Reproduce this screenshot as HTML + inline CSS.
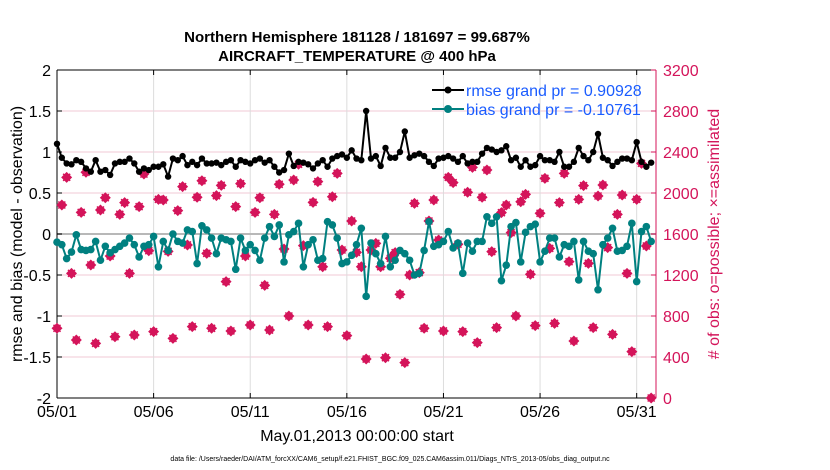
<!DOCTYPE html>
<html><head><meta charset="utf-8"><style>
body{margin:0;background:#fff;}
svg{display:block;font-family:"Liberation Sans",Arial,sans-serif;}
</style></head><body>
<svg id="chart" width="830" height="470" viewBox="0 0 830 470" xmlns="http://www.w3.org/2000/svg">
<rect width="830" height="470" fill="#fff"/>
<text x="357" y="42" text-anchor="middle" font-size="15" font-weight="bold">Northern Hemisphere 181128 / 181697 = 99.687%</text>
<text x="357" y="61" text-anchor="middle" font-size="15" font-weight="bold">AIRCRAFT_TEMPERATURE @ 400 hPa</text>
<g id="grid"></g>
<g id="ticks"></g>
<g id="marks"></g>
<text transform="translate(22,234) rotate(-90)" text-anchor="middle" font-size="16">rmse and bias (model - observation)</text>
<text transform="translate(719,234) rotate(-90)" text-anchor="middle" font-size="16" fill="#d4145a"># of obs: o=possible; ×=assimilated</text>
<text x="357" y="441" text-anchor="middle" font-size="16">May.01,2013 00:00:00 start</text>
<text x="390" y="461" text-anchor="middle" font-size="7">data file: /Users/raeder/DAI/ATM_forcXX/CAM6_setup/f.e21.FHIST_BGC.f09_025.CAM6assim.011/Diags_NTrS_2013-05/obs_diag_output.nc</text>
<g>
<line x1="432" y1="90" x2="464" y2="90" stroke="#000" stroke-width="2"/>
<circle cx="448" cy="90" r="3.5" fill="#000"/>
<text x="466" y="96" font-size="16" fill="#1a5cff">rmse grand pr = 0.90928</text>
<line x1="432" y1="109" x2="464" y2="109" stroke="#008080" stroke-width="2"/>
<circle cx="448" cy="109" r="4" fill="#008080"/>
<text x="466" y="115" font-size="16" fill="#1a5cff">bias grand pr = -0.10761</text>
</g>
</svg>
<script>
const rmse=[1.1,0.93,0.86,0.85,0.9,0.88,0.8,0.76,0.9,0.76,0.78,0.72,0.86,0.88,0.88,0.92,0.86,0.76,0.8,0.78,0.82,0.82,0.85,0.7,0.92,0.9,0.95,0.84,0.88,0.84,0.92,0.86,0.86,0.87,0.84,0.88,0.9,0.82,0.9,0.88,0.86,
0.9,0.92,0.87,0.9,0.82,0.75,0.78,0.98,0.83,0.88,0.87,0.85,0.8,0.86,0.9,0.82,0.92,0.95,0.97,0.93,1.02,0.92,0.9,1.5,0.92,0.95,0.83,1.05,0.93,0.93,1.0,1.25,0.93,0.96,0.98,0.95,0.88,0.83,0.92,0.93,0.95,
0.92,0.88,0.95,0.86,0.88,0.88,0.98,1.05,1.03,1.0,1.02,1.07,0.9,0.93,0.82,0.9,0.82,0.84,0.95,0.9,0.9,0.88,1.0,0.82,0.82,0.88,1.05,0.95,0.9,1.0,1.22,0.93,0.9,0.83,0.88,0.92,0.92,0.9,1.12,0.88,0.82,0.87];
const bias=[-0.1,-0.13,-0.3,-0.22,-0.01,-0.19,-0.2,-0.19,-0.09,-0.32,-0.15,-0.23,-0.19,-0.15,-0.11,-0.05,-0.13,-0.28,-0.15,-0.13,-0.03,-0.4,-0.09,-0.2,0,-0.09,-0.11,0.05,0.03,-0.36,0.1,0.05,-0.05,-0.24,-0.05,-0.07,-0.09,-0.43,-0.05,-0.2,-0.13,
-0.2,-0.32,-0.05,0.09,-0.03,0.11,-0.34,-0.01,0.03,0.13,-0.4,-0.13,-0.07,-0.32,-0.3,0.15,0.11,-0.05,-0.36,-0.34,-0.26,-0.13,0.07,-0.76,-0.11,-0.24,-0.36,-0.03,-0.4,-0.32,-0.2,-0.24,-0.32,-0.5,-0.48,-0.2,0.15,-0.15,-0.13,-0.09,0.03,
-0.17,-0.11,-0.48,-0.11,-0.21,-0.09,-0.09,0.21,0.13,0.21,-0.57,-0.38,0.09,0.14,-0.34,0.02,0.09,0.12,-0.34,-0.21,-0.05,-0.05,-0.28,-0.13,-0.15,-0.09,-0.56,-0.09,-0.21,-0.24,-0.68,-0.13,-0.05,0.07,-0.21,-0.2,-0.15,0.13,-0.58,0.03,0.09,-0.09];
const nobs=[680,1883,2153,1216,566,1811,2202,1298,533,1834,1954,1385,598,1792,1906,1216,615,1867,2185,1437,647,1938,1932,1431,582,1828,2062,1493,696,1958,2120,1411,680,1974,2075,1135,654,1867,2091,1385,712,
1811,1954,1099,663,1792,2085,1454,800,2127,2280,1486,712,1909,2111,1281,696,1964,2192,1444,608,1727,1421,1281,380,1444,1509,1281,393,1363,1418,1011,345,1200,1899,1223,680,1727,1932,1541,654,2153,
2101,1500,647,2007,2250,540,1958,2224,1428,686,1808,1883,1613,800,1915,1987,1207,706,1802,2143,1460,728,1906,2192,1330,556,1938,2072,1314,686,1971,2078,1467,621,1792,1980,1216,452,1938,2289,1483,0];
const xTickLabels=["05/01","05/06","05/11","05/16","05/21","05/26","05/31"];
const xTickDays=[0,5,10,15,20,25,30];
const yTicksLeft=[2,1.5,1,0.5,0,-0.5,-1,-1.5,-2];
const yTicksRight=[3200,2800,2400,2000,1600,1200,800,400,0];
const stepDays=0.25;

const X0=57,X1=656,Y0=70,Y1=398,DAYS=31;
const xS=d=>X0+(d/DAYS)*(X1-X0);
const yL=v=>Y1-((v+2)/4)*(Y1-Y0);
const yR=v=>Y1-(v/3200)*(Y1-Y0);
const NS="http://www.w3.org/2000/svg";
function mk(tag,attrs,parent){const e=document.createElementNS(NS,tag);for(const k in attrs)e.setAttribute(k,attrs[k]);parent.appendChild(e);return e;}
const grid=document.getElementById('grid'),ticks=document.getElementById('ticks'),marks=document.getElementById('marks');
const PINK="#d4145a";
yTicksLeft.forEach(v=>{if(v>-2&&v<2&&v!==0){const l=mk('line',{x1:X0,x2:X1,y1:yL(v),y2:yL(v),stroke:'#f0c8d6','stroke-width':1},grid);

}});
xTickDays.forEach(d=>{if(d>0){const l=mk('line',{x1:xS(d),x2:xS(d),y1:Y0,y2:Y1,stroke:'#dcdcdc','stroke-width':1},grid);

}});
const z=mk('line',{x1:X0,x2:X1,y1:yL(0),y2:yL(0),stroke:'#b8b8b8','stroke-width':2},grid);


const ax=[['line',{x1:X0,x2:X0,y1:Y0,y2:Y1,stroke:'#000'},'y-axis-left'],['line',{x1:X0,x2:X1,y1:Y1,y2:Y1,stroke:'#000'},'x-axis'],['line',{x1:X0,x2:X1,y1:Y0,y2:Y0,stroke:'#000'},'top-border'],['line',{x1:X1,x2:X1,y1:Y0,y2:Y1,stroke:PINK},'y-axis-right']];
ax.forEach(a=>{const e=mk(a[0],a[1],ticks);

});
yTicksLeft.forEach(v=>{const y=yL(v);mk('line',{x1:X0,x2:X0+5,y1:y,y2:y,stroke:'#000'},ticks);
const t=mk('text',{x:X0-6,y:y+6,'text-anchor':'end','font-size':16},ticks);t.textContent=String(v);

});
yTicksRight.forEach(v=>{const y=yR(v);mk('line',{x1:X1-5,x2:X1,y1:y,y2:y,stroke:PINK},ticks);
const t=mk('text',{x:X1+7,y:y+6,'font-size':16,fill:PINK},ticks);t.textContent=String(v);

});
xTickDays.forEach((d,i)=>{const x=xS(d);mk('line',{x1:x,x2:x,y1:Y1,y2:Y1-5,stroke:'#000'},ticks);mk('line',{x1:x,x2:x,y1:Y0,y2:Y0+5,stroke:'#000'},ticks);
const t=mk('text',{x:x,y:Y1+19,'text-anchor':'middle','font-size':16},ticks);t.textContent=xTickLabels[i];

});
nobs.forEach((v,i)=>{const x=xS(i*stepDays),y=yR(v);
const g=mk('g',{},marks);


mk('path',{d:`M${x-5.5} ${y}L${x} ${y-5.5}L${x+5.5} ${y}L${x} ${y+5.5}Z`,fill:PINK},g);
mk('path',{d:`M${x-3.5} ${y-3.5}L${x+3.5} ${y+3.5}M${x-3.5} ${y+3.5}L${x+3.5} ${y-3.5}`,stroke:PINK,'stroke-width':1.5},g);});
function series(arr,color,r,name){
const pts=arr.map((v,i)=>xS(i*stepDays).toFixed(1)+','+yL(v).toFixed(1)).join(' ');
const pl=mk('polyline',{points:pts,fill:'none',stroke:color,'stroke-width':2},marks);


arr.forEach((v,i)=>{const c=mk('circle',{cx:xS(i*stepDays),cy:yL(v),r:r,fill:color},marks);

});}
series(bias,'#008080',3.8,'bias');
series(rmse,'#000',3.2,'rmse');
</script>
</body></html>
